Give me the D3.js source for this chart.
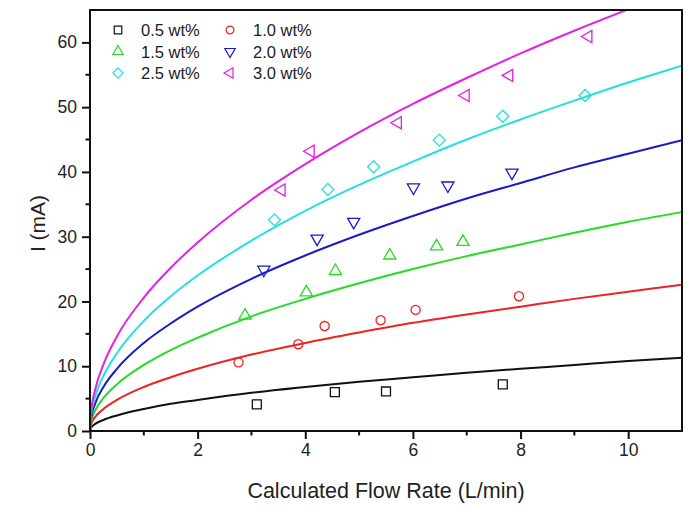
<!DOCTYPE html>
<html>
<head>
<meta charset="utf-8">
<script src="https://cdn.jsdelivr.net/npm/d3@7/dist/d3.min.js"></script>
<style>
    body { margin: 0; background: #fff; }
    svg text { font-family: "Liberation Sans", Arial, sans-serif; fill: #222; }
</style>
</head>
<body>
<svg></svg>
<script>
// series labels
const seriesNames = ['0.5 wt%', '1.0 wt%', '1.5 wt%', '2.0 wt%', '2.5 wt%', '3.0 wt%'];

// measured points (flow rate L/min, current mA)
const flow05 = [3.10, 4.55, 5.50, 7.67];
const curr05 = [4.1, 6.0, 6.1, 7.2];
const flow10 = [2.76, 3.87, 4.36, 5.40, 6.05, 7.97];
const curr10 = [10.6, 13.4, 16.2, 17.1, 18.7, 20.8];
const flow15 = [2.88, 4.02, 4.56, 5.57, 6.44, 6.93];
const curr15 = [17.8, 21.4, 24.7, 27.1, 28.5, 29.2];
const flow20 = [3.23, 4.22, 4.90, 6.01, 6.65, 7.84];
const curr20 = [24.9, 29.7, 32.3, 37.6, 37.9, 39.9];
const flow25 = [3.43, 4.42, 5.27, 6.49, 7.67, 9.20];
const curr25 = [32.6, 37.3, 40.8, 44.9, 48.6, 51.8];
const flow30 = [3.56, 4.10, 5.72, 6.98, 7.79, 9.26];
const curr30 = [37.2, 43.2, 47.6, 51.8, 54.9, 60.9];

// fitted curves at these flow rates
const fitFlow = [0, 0.02, 0.1, 0.25, 0.5, 1, 1.5, 2, 3, 4, 5, 6, 7, 8, 9, 10, 11];
const fit05 = [0, 0.5, 1.1, 1.7, 2.4, 3.4, 4.2, 4.8, 5.9, 6.8, 7.6, 8.3, 9.0, 9.6, 10.2, 10.8, 11.3];
const fit10 = [0, 1.0, 2.2, 3.4, 4.8, 6.8, 8.3, 9.6, 11.8, 13.6, 15.2, 16.7, 18.0, 19.2, 20.4, 21.5, 22.6];
const fit15 = [0, 1.4, 3.2, 5.1, 7.2, 10.2, 12.5, 14.4, 17.7, 20.4, 22.8, 25.0, 27.0, 28.8, 30.6, 32.3, 33.8];
const fit20 = [0, 1.9, 4.3, 6.8, 9.6, 13.6, 16.6, 19.2, 23.5, 27.1, 30.3, 33.2, 35.9, 38.3, 40.7, 42.8, 44.9];
const fit25 = [0, 2.4, 5.4, 8.5, 12.0, 17.0, 20.8, 24.0, 29.4, 34.0, 38.0, 41.6, 45.0, 48.1, 51.0, 53.8, 56.4];
const fit30 = [0, 2.9, 6.5, 10.3, 14.6, 20.6, 25.2, 29.1, 35.7, 41.2, 46.1, 50.5, 54.5, 58.3, 61.8, 65.1, 68.3];

// axis ticks
const xTicks = [0, 2, 4, 6, 8, 10];
const yTicks = [0, 10, 20, 30, 40, 50, 60];

const width = 695, height = 505;
const margin = { top: 10, right: 13, bottom: 74, left: 90 };
const plotW = width - margin.left - margin.right;
const plotH = height - margin.top - margin.bottom;

const colors = ['#111111', '#ee2222', '#22dd22', '#1a1ac8', '#22e0e0', '#e61ee6'];
const shapes = [
    { type: d3.symbolSquare, size: 80, rot: 0 },
    { type: d3.symbolCircle, size: 66, rot: 0 },
    { type: d3.symbolTriangle, size: 64, rot: 0 },
    { type: d3.symbolTriangle, size: 64, rot: 180 },
    { type: d3.symbolSquare, size: 72, rot: 45 },
    { type: d3.symbolTriangle, size: 64, rot: -90 }
];

const flows = [flow05, flow10, flow15, flow20, flow25, flow30];
const currs = [curr05, curr10, curr15, curr20, curr25, curr30];
const fits = [fit05, fit10, fit15, fit20, fit25, fit30];

const svg = d3.select('svg')
    .attr('width', width)
    .attr('height', height);

const x = d3.scaleLinear().domain([0, 11]).range([0, plotW]);
const y = d3.scaleLinear().domain([0, 65]).range([plotH, 0]);

const g = svg.append('g')
    .attr('transform', `translate(${margin.left},${margin.top})`);

// clip for the fit curves
svg.append('defs').append('clipPath').attr('id', 'plotClip')
    .append('rect').attr('width', plotW).attr('height', plotH);

// fit lines
const line = d3.line()
    .x((d, i) => x(fitFlow[i]))
    .y(d => y(d))
    .curve(d3.curveMonotoneX);

const curves = g.append('g').attr('clip-path', 'url(#plotClip)');
fits.forEach((f, k) => {
    curves.append('path')
        .attr('d', line(f))
        .attr('fill', 'none')
        .attr('stroke', colors[k])
        .attr('stroke-width', 2);
});

// scatter markers
function symbolPath(k) {
    return d3.symbol().type(shapes[k].type).size(shapes[k].size)();
}

flows.forEach((fl, k) => {
    g.append('g').selectAll('path')
        .data(fl)
        .join('path')
        .attr('d', symbolPath(k))
        .attr('transform', (d, i) => `translate(${x(d)},${y(currs[k][i])}) rotate(${shapes[k].rot})`)
        .attr('fill', 'none')
        .attr('stroke', colors[k])
        .attr('stroke-width', 1.3);
});

// axes
const xAxis = d3.axisBottom(x).tickValues(xTicks).tickSize(8).tickPadding(5).tickFormat(d3.format('d'));
const yAxis = d3.axisLeft(y).tickValues(yTicks).tickSize(8).tickPadding(5).tickFormat(d3.format('d'));

const xg = g.append('g')
    .attr('transform', `translate(0,${plotH})`)
    .call(xAxis);
const yg = g.append('g').call(yAxis);

[xg, yg].forEach(a => {
    a.select('.domain').remove();
    a.selectAll('line').attr('stroke', '#111').attr('stroke-width', 2);
    a.selectAll('text').style('font-size', '17.5px').attr('fill', '#222');
});

// minor ticks
g.append('g').selectAll('line')
    .data(d3.range(1, 11, 2))
    .join('line')
    .attr('x1', d => x(d)).attr('x2', d => x(d))
    .attr('y1', plotH).attr('y2', plotH + 4.5)
    .attr('stroke', '#111').attr('stroke-width', 2);

g.append('g').selectAll('line')
    .data(d3.range(5, 65, 10))
    .join('line')
    .attr('x1', 0).attr('x2', -4.5)
    .attr('y1', d => y(d)).attr('y2', d => y(d))
    .attr('stroke', '#111').attr('stroke-width', 2);

// frame
g.append('rect')
    .attr('width', plotW)
    .attr('height', plotH)
    .attr('fill', 'none')
    .attr('stroke', '#111')
    .attr('stroke-width', 2);

// axis titles
g.append('text')
    .attr('x', plotW / 2)
    .attr('y', plotH + 67)
    .attr('text-anchor', 'middle')
    .style('font-size', '21.5px')
    .text('Calculated Flow Rate (L/min)');

g.append('text')
    .attr('transform', `translate(${-45},${plotH / 2 + 3}) rotate(-90)`)
    .attr('text-anchor', 'middle')
    .style('font-size', '21px')
    .text('I (mA)');

// legend
const legend = g.append('g');
seriesNames.forEach((name, k) => {
    const col = k % 2, row = Math.floor(k / 2);
    const lx = 28 + col * 112, ly = 20 + row * 21.5;
    legend.append('path')
        .attr('d', symbolPath(k))
        .attr('transform', `translate(${lx},${ly}) rotate(${shapes[k].rot}) scale(0.85)`)
        .attr('fill', 'none')
        .attr('stroke', colors[k])
        .attr('stroke-width', 1.4);
    legend.append('text')
        .attr('x', lx + 23)
        .attr('y', ly + 6)
        .style('font-size', '16.5px')
        .text(name);
});
</script>
</body>
</html>
